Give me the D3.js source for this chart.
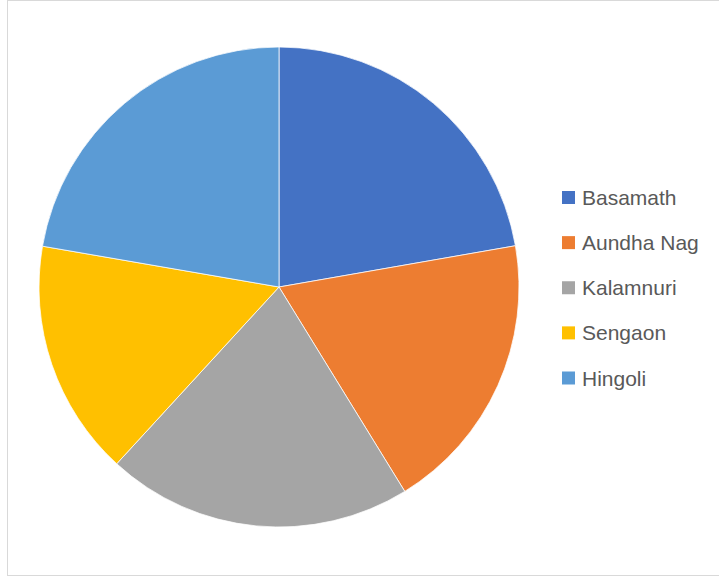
<!DOCTYPE html>
<html>
<head>
<meta charset="utf-8">
<script src="https://cdn.jsdelivr.net/npm/d3@7"></script>
<style>
  body { margin: 0; background: #fff; }
  svg { display: block; }
</style>
</head>
<body>
<div class="canvas"></div>
<script>
var WIDTH = 719, HEIGHT = 578;

var talukas = ["Basamath", "Aundha Nag", "Kalamnuri", "Sengaon", "Hingoli"];
var shares = [22.25, 18.97, 20.6, 15.9, 22.28];
var colours = ["#4472c4", "#ed7d31", "#a5a5a5", "#ffc000", "#5b9bd5"];

var svg = d3.select(".canvas")
  .append("svg")
  .attr("width", WIDTH)
  .attr("height", HEIGHT);

// chart frame
svg.append("rect")
  .attr("x", 7.5)
  .attr("y", 0.5)
  .attr("width", 730)
  .attr("height", 575)
  .attr("fill", "none")
  .attr("stroke", "#d9d9d9");

var cx = 279, cy = 287, r = 240;

var pie = d3.pie().sort(null).value(function(d) { return d; });
var arc = d3.arc().innerRadius(0).outerRadius(r);

var colour = d3.scaleOrdinal().domain(talukas).range(colours);

var g = svg.append("g").attr("transform", "translate(" + [cx, cy] + ")");

g.selectAll("path")
  .data(pie(shares))
  .enter().append("path")
  .attr("d", arc)
  .attr("fill", function(d, i) { return colour(talukas[i]); })
  .attr("stroke", "#fff")
  .attr("stroke-width", 0.75);

// legend
var ly = d3.scalePoint().domain(talukas).range([197.5, 378]);

var legend = svg.selectAll("g.leg")
  .data(talukas)
  .enter().append("g")
  .attr("class", "leg")
  .attr("transform", function(d) { return "translate(" + [562, ly(d)] + ")"; });

legend.append("rect")
  .attr("x", 0)
  .attr("y", -6.5)
  .attr("width", 13)
  .attr("height", 13)
  .attr("fill", function(d) { return colour(d); });

legend.append("text")
  .attr("x", 20)
  .attr("y", 0)
  .attr("dy", "0.36em")
  .attr("font-family", "Liberation Sans, Arial, sans-serif")
  .attr("font-size", 21)
  .attr("fill", "#595959")
  .text(function(d) { return d; });
</script>
</body>
</html>
